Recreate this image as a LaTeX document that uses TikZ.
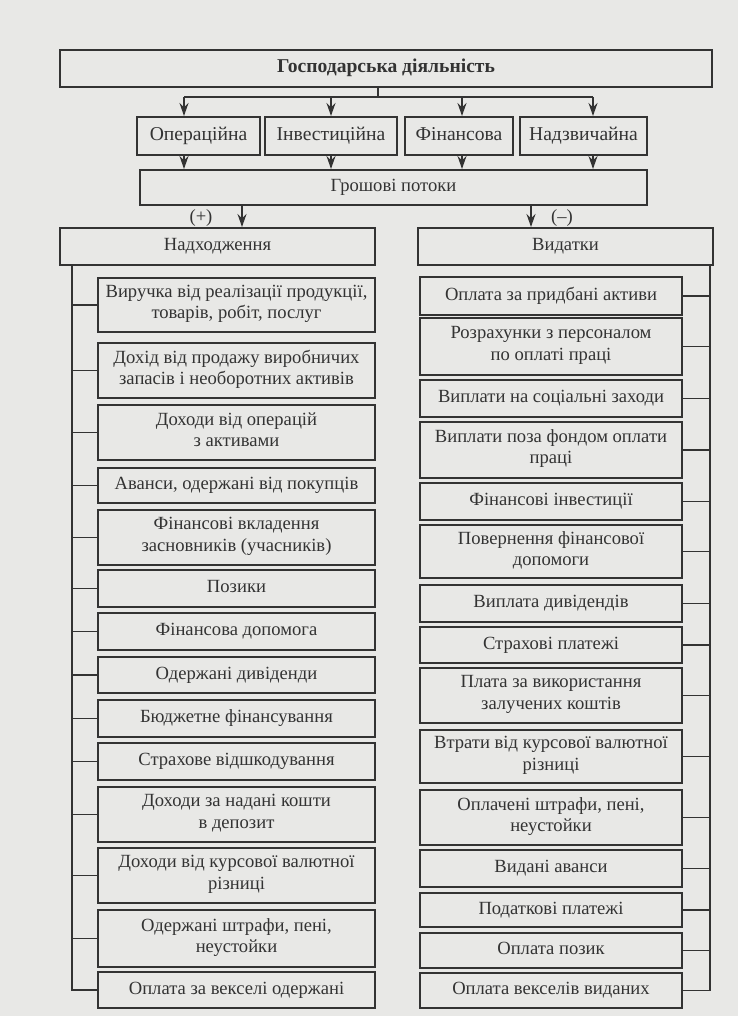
\documentclass[tikz,border=0pt]{standalone}
\usepackage{fontspec}
\setmainfont{Liberation Serif}
\usetikzlibrary{arrows.meta,calc}
\definecolor{ink}{HTML}{333333}
\definecolor{paper}{HTML}{E8E8E6}
\tikzset{
  box/.style={draw=ink,line width=1pt,inner sep=1pt,align=center,text=ink,font=\fontsize{9.3}{10.6}\selectfont,
    execute at begin node=\strut,execute at end node=\strut},
  arr/.style={-{Stealth[length=6.5pt,width=4.5pt]},line width=0.8pt,ink},
  ln/.style={line width=0.8pt,ink},
  sign/.style={inner sep=0pt,text=ink,font=\fontsize{9.3}{10.6}\selectfont},
}

\begin{document}
\begin{tikzpicture}[x=0.5pt,y=-0.5pt]
\fill[paper] (0,0) rectangle (738,1016);
\useasboundingbox (0,0) rectangle (738,1016);
\node[box,minimum width=326pt,minimum height=18.5pt,font=\fontsize{9.8}{11}\selectfont\bfseries] (gd) at (386,68.5) {Господарська діяльність};
\node[box,minimum width=61.5pt,minimum height=19pt,font=\fontsize{9.8}{11}\selectfont] (op) at (198.5,136) {Операційна};
\node[box,minimum width=66pt,minimum height=19pt,font=\fontsize{9.8}{11}\selectfont] (inv) at (331,136) {Інвестиційна};
\node[box,minimum width=54pt,minimum height=19pt,font=\fontsize{9.8}{11}\selectfont] (fin) at (459,136) {Фінансова};
\node[box,minimum width=63.5pt,minimum height=19pt,font=\fontsize{9.8}{11}\selectfont] (nadz) at (583.5,136) {Надзвичайна};
\node[box,minimum width=253.5pt,minimum height=17.5pt] (gp) at (393.5,187.5) {Грошові потоки};
\node[box,minimum width=157.5pt,minimum height=18.5pt] (nad) at (217.5,246.5) {Надходження};
\node[box,minimum width=147.5pt,minimum height=18.5pt] (vyd) at (565.5,246.5) {Видатки};
% from the activity to its four kinds
\coordinate (bar) at (378,97);
\draw[ln] (gd.south -| bar) -- (bar);
\draw[ln] (184,97) -- (593,97);
\foreach \n/\x in {op/184,inv/331,fin/462,nadz/593}{
  \draw[arr] (\x,97) -- (\n.north -| \x,0);
  \draw[arr] (\n.south -| \x,0) -- (gp.north -| \x,0);
}
\draw[arr] (gp.south -| 242,0) -- (nad.north -| 242,0);
\draw[arr] (gp.south -| 531,0) -- (vyd.north -| 531,0);
\node[sign] (plus) at (201,218) {(+)};
\node[sign] (minus) at (562,218) {(–)};
% incoming
\foreach \n/\t/\b/\s in {
  l1/278/332/{Виручка від реалізації продукції,\\товарів, робіт, послуг},
  l2/343/398/{Дохід від продажу виробничих\\запасів і необоротних активів},
  l3/405/460/{Доходи від операцій\\з активами},
  l4/468/503/{Аванси, одержані від покупців},
  l5/510/565/{Фінансові вкладення\\засновників (учасників)},
  l6/570/607/{Позики},
  l7/613/650/{Фінансова допомога},
  l8/657/693/{Одержані дивіденди},
  l9/700/737/{Бюджетне фінансування},
  l10/743/780/{Страхове відшкодування},
  l11/787/842/{Доходи за надані кошти\\в депозит},
  l12/848/903/{Доходи від курсової валютної\\різниці},
  l13/910/967/{Одержані штрафи, пені,\\неустойки},
  l14/972/1008/{Оплата за векселі одержані}}
  \node[box,minimum width=138.5pt,minimum height={(\b-\t)*0.5pt}] (\n) at (236.5,{(\t+\b)/2}) {\s};
% outgoing
\foreach \n/\t/\b/\s in {
  r1/277/315/{Оплата за придбані активи},
  r2/318/375/{Розрахунки з персоналом\\по оплаті праці},
  r3/380/417/{Виплати на соціальні заходи},
  r4/422/478/{Виплати поза фондом оплати\\праці},
  r5/483/520/{Фінансові інвестиції},
  r6/525/578/{Повернення фінансової\\допомоги},
  r7/585/622/{Виплата дивідендів},
  r8/627/663/{Страхові платежі},
  r9/668/723/{Плата за використання\\залучених коштів},
  r10/730/783/{Втрати від курсової валютної\\різниці},
  r11/790/845/{Оплачені штрафи, пені,\\неустойки},
  r12/850/887/{Видані аванси},
  r13/893/927/{Податкові платежі},
  r14/933/968/{Оплата позик},
  r15/973/1008/{Оплата векселів виданих}}
  \node[box,minimum width=131pt,minimum height={(\b-\t)*0.5pt}] (\n) at (551,{(\t+\b)/2}) {\s};
% buses
\coordinate (lb) at (72,265);
\coordinate (rb) at (710,265);
\draw[ln] (nad.south -| lb) -- (lb |- l14.west) -- (l14.west);
\foreach \i in {1,...,13} \draw[ln] (lb |- l\i.west) -- (l\i.west);
\draw[ln] (vyd.south -| rb) -- (rb |- r15.east) -- (r15.east);
\foreach \i in {1,...,14} \draw[ln] (rb |- r\i.east) -- (r\i.east);
\end{tikzpicture}
\end{document}
